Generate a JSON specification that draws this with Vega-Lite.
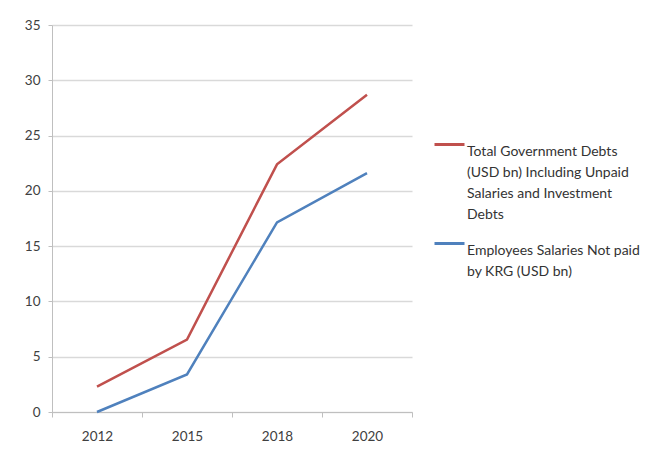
{
  "$schema": "https://vega.github.io/schema/vega-lite/v6.json",
  "width": 360,
  "height": 387,
  "autosize": "none",
  "padding": {"left": 52, "top": 25, "right": 246, "bottom": 42},
  "background": "white",
  "data": {
    "values": [
      {"year": "2012", "series": "Total Government Debts|(USD bn) Including Unpaid|Salaries and Investment|Debts", "value": 2.3},
      {"year": "2015", "series": "Total Government Debts|(USD bn) Including Unpaid|Salaries and Investment|Debts", "value": 6.55},
      {"year": "2018", "series": "Total Government Debts|(USD bn) Including Unpaid|Salaries and Investment|Debts", "value": 22.4},
      {"year": "2020", "series": "Total Government Debts|(USD bn) Including Unpaid|Salaries and Investment|Debts", "value": 28.7},
      {"year": "2012", "series": "Employees Salaries Not paid|by KRG (USD bn)", "value": 0},
      {"year": "2015", "series": "Employees Salaries Not paid|by KRG (USD bn)", "value": 3.4},
      {"year": "2018", "series": "Employees Salaries Not paid|by KRG (USD bn)", "value": 17.15},
      {"year": "2020", "series": "Employees Salaries Not paid|by KRG (USD bn)", "value": 21.6}
    ]
  },
  "mark": {"type": "line", "strokeWidth": 2.5},
  "encoding": {
    "x": {
      "field": "year",
      "type": "ordinal",
      "bandPosition": 0.5,
      "scale": {"type": "band", "paddingInner": 0, "paddingOuter": 0},
      "axis": {
        "title": null,
        "labelAngle": 0,
        "grid": false,
        "tickBand": "extent",
        "domainColor": "#bfbfbf",
        "tickColor": "#bfbfbf",
        "tickSize": 5,
        "labelPadding": 12,
        "labelFontSize": 13.5,
        "labelColor": "#404040",
        "labelFont": "Lato"
      }
    },
    "y": {
      "field": "value",
      "type": "quantitative",
      "scale": {"domain": [0, 35], "nice": false},
      "axis": {
        "title": null,
        "values": [0, 5, 10, 15, 20, 25, 30, 35],
        "gridColor": "#d9d9d9",
        "gridWidth": 1.5,
        "domainColor": "#bfbfbf",
        "tickColor": "#bfbfbf",
        "tickSize": 4,
        "labelPadding": 8,
        "labelFontSize": 13.5,
        "labelColor": "#404040",
        "labelFont": "Lato"
      }
    },
    "color": {
      "field": "series",
      "type": "nominal",
      "scale": {
        "domain": ["Total Government Debts|(USD bn) Including Unpaid|Salaries and Investment|Debts", "Employees Salaries Not paid|by KRG (USD bn)"],
        "range": ["#c0504d", "#4f81bd"]
      },
      "legend": {
        "title": null,
        "orient": "none",
        "legendX": 381,
        "legendY": 103,
        "symbolType": "stroke",
        "symbolSize": 900,
        "symbolStrokeWidth": 3,
        "labelExpr": "split(datum.label, '|')",
        "labelLimit": 300,
        "labelFontSize": 14,
        "labelFont": "Lato",
        "labelColor": "#333333",
        "labelOffset": 1,
        "rowPadding": 5,
        "labelBaseline": "top",
        "encode": {"labels": {"update": {"lineHeight": {"value": 21}}}}
      }
    }
  },
  "config": {"view": {"stroke": null}}
}
